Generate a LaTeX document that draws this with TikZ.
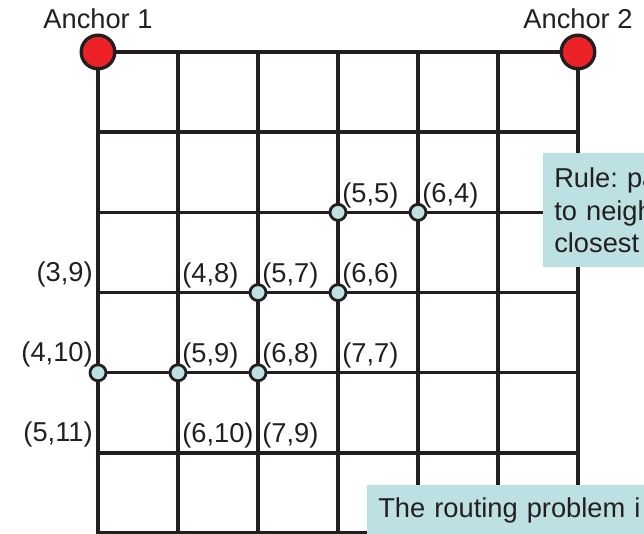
\documentclass[tikz,border=0pt]{standalone}
\usepackage{fontspec}
\setmainfont{Liberation Sans}
\usepackage{tikz}
\frenchspacing

\definecolor{anchorred}{HTML}{EC2227}
\definecolor{pathblue}{HTML}{BDE0E2}
\definecolor{gridblack}{HTML}{231F20}

\begin{document}
\begin{tikzpicture}[x=2cm,y=2.005cm,
    font=\fontsize{19.4}{23.1}\selectfont,
    gridline/.style={line width=2.4pt, draw=gridblack},
    anchorpt/.style={circle, draw=gridblack, line width=2.4pt, fill=anchorred, minimum size=0.84cm, inner sep=0pt},
    pathpt/.style={circle, draw=gridblack, line width=2pt, fill=pathblue, minimum size=0.4cm, inner sep=0pt},
    rlabel/.style={anchor=base west, inner sep=0pt, text=gridblack},
    llabel/.style={anchor=base east, inner sep=0pt, text=gridblack},
    infobox/.style={fill=pathblue, anchor=north west, align=left, text width=12cm, inner xsep=0.275cm, text=gridblack}]
    \path[use as bounding box, clip] (-1.225,0.648) rectangle (6.825,-6.01);

    % grid
    \foreach \r in {0,...,6}
        \draw[gridline] (0,-\r) -- (6,-\r);
    \foreach \c in {0,...,6}
        \draw[gridline] (\c,0) -- (\c,-6.6);

    % anchors
    \node[anchorpt] (a1) at (0,0) {};
    \node[anchorpt] (a2) at (6,0) {};
    \node[anchor=base, inner sep=0pt, text=gridblack] (t1) at (0,0.2875) {Anchor 1};
    \node[anchor=base, inner sep=0pt, text=gridblack] (t2) at (6,0.2875) {Anchor 2};

    % routed points
    \node[pathpt] (p55) at (3,-2) {};
    \node[pathpt] (p64) at (4,-2) {};
    \node[pathpt] (p57) at (2,-3) {};
    \node[pathpt] (p66) at (3,-3) {};
    \node[pathpt] (p410) at (0,-4) {};
    \node[pathpt] (p59) at (1,-4) {};
    \node[pathpt] (p68) at (2,-4) {};

    % labels
    \node[rlabel] (l55) at (3.05,-1.875) {(5,5)};
    \node[rlabel] (l64) at (4.05,-1.875) {(6,4)};
    \node[llabel] (l39) at (-0.0625,-2.8625) {(3,9)};
    \node[rlabel] (l48) at (1.05,-2.875) {(4,8)};
    \node[rlabel] (l57) at (2.05,-2.875) {(5,7)};
    \node[rlabel] (l66) at (3.05,-2.875) {(6,6)};
    \node[llabel] (l410) at (-0.0625,-3.8625) {(4,10)};
    \node[rlabel] (l59) at (1.05,-3.875) {(5,9)};
    \node[rlabel] (l68) at (2.05,-3.875) {(6,8)};
    \node[rlabel] (l77) at (3.05,-3.875) {(7,7)};
    \node[llabel] (l511) at (-0.0625,-4.8625) {(5,11)};
    \node[rlabel] (l610) at (1.05,-4.875) {(6,10)};
    \node[rlabel] (l79) at (2.05,-4.875) {(7,9)};

    % notes
    \node[infobox, minimum height=2.85cm] (rule) at (5.5625,-1.26) {Rule: pa\\to neigh\\closest};
    \node[infobox, inner ysep=0.31cm] (routing) at (3.3625,-5.4) {The routing problem i};
\end{tikzpicture}
\end{document}
